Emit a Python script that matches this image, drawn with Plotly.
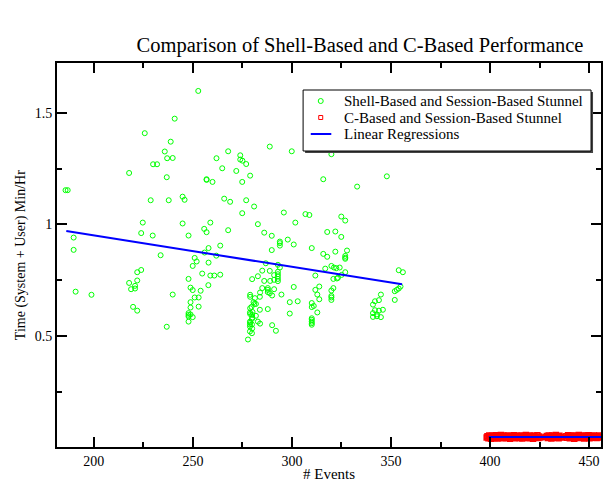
import plotly.graph_objects as go

# Shell-Based and Session-Based Stunnel (events, time min/hr)
shell_x = [
    252.7, 240.8, 225.7, 238.8, 235.8, 237.0, 239.8, 229.9, 231.9, 217.8, 236.8, 267.8,
    273.9, 273.9, 275.0, 276.9, 261.9, 264.8, 271.9, 278.9, 256.9, 288.8, 299.9,
    319.9, 315.8, 347.9,
    185.7, 186.8, 228.7, 237.8, 224.7, 223.9, 229.7, 189.8, 189.8, 233.7,
    190.8, 198.8, 221.9, 223.9, 217.8, 221.9, 220.8, 218.8, 220.8, 219.8, 221.9, 239.8, 236.8,
    256.9, 259.9, 274.9, 332.9, 244.8, 245.8, 265.8, 268.8, 276.9, 280.9, 274.9, 295.9,
    306.8, 308.8, 324.9, 326.9, 244.8, 258.8, 282.8, 301.7, 255.7, 256.9, 267.8, 286.0,
    289.8, 317.8, 321.9, 324.9, 247.8, 297.9, 293.9, 293.9, 293.9, 300.9, 310.0, 257.9,
    263.8, 289.8, 327.8, 321.9, 315.8, 317.8, 326.9, 326.9, 326.9, 255.9, 261.8, 250.9,
    251.9, 257.9, 249.9, 286.8, 292.9, 293.9, 319.9, 321.2, 322.4, 324.1, 316.8, 285.0,
    288.8, 292.9, 292.9, 292.9, 291.0, 254.7, 258.8, 260.8, 263.8, 282.8, 311.8, 326.9,
    325.1, 353.9, 356.0, 247.8, 279.9, 286.0, 289.0, 291.0, 292.9, 292.9, 320.9, 322.7,
    323.2, 257.8, 248.8, 249.9, 253.9, 285.0, 287.8, 287.8, 287.8, 291.0, 300.9, 313.8,
    311.8, 320.9, 319.9, 353.9, 352.9, 351.9, 354.8, 283.9, 288.8, 290.0, 294.7, 312.8,
    344.9, 278.9, 278.9, 283.8, 250.9, 252.9, 281.3, 319.9, 319.9, 319.9, 313.8, 351.9,
    343.9, 341.9, 248.8, 280.6, 281.8, 298.9, 302.9, 310.0, 311.0, 340.9, 279.6, 278.9,
    252.9, 248.8, 310.0, 283.8, 287.8, 341.9, 343.9, 345.9, 340.9, 342.9, 247.8, 247.8,
    248.8, 247.8, 298.9, 312.8, 278.8, 279.9, 281.8, 340.9, 344.9, 342.9, 249.9, 247.8,
    279.8, 278.8, 282.8, 283.9, 310.0, 310.0, 310.0, 310.0, 310.0, 278.8, 279.8, 278.8,
    279.9, 290.0, 291.9, 278.8, 279.8, 277.8, 281.0, 280.1, 278.9, 280.0, 278.9,
]
shell_y = [
    1.597, 1.473, 1.408, 1.370, 1.326, 1.296, 1.297, 1.269, 1.269, 1.230, 1.211, 1.327,
    1.309, 1.290, 1.285, 1.270, 1.296, 1.251, 1.239, 1.218, 1.202, 1.348, 1.327,
    1.314, 1.202, 1.215,
    1.153, 1.153, 1.108, 1.108, 1.008, 0.961, 0.950, 0.941, 0.886, 0.862,
    0.699, 0.685, 0.786, 0.796, 0.738, 0.749, 0.725, 0.710, 0.713, 0.631, 0.614, 0.686, 0.542,
    1.199, 1.190, 1.190, 1.169, 1.124, 1.110, 1.115, 1.101, 1.108, 1.080, 1.050, 1.053,
    1.046, 1.042, 1.035, 1.017, 1.004, 1.008, 1.001, 1.008, 0.980, 0.965, 0.974, 0.963,
    0.949, 0.966, 0.968, 0.944, 0.950, 0.932, 0.923, 0.916, 0.905, 0.910, 0.894, 0.894,
    0.905, 0.885, 0.883, 0.878, 0.868, 0.855, 0.859, 0.851, 0.846, 0.874, 0.860, 0.850,
    0.834, 0.829, 0.814, 0.826, 0.819, 0.807, 0.814, 0.807, 0.804, 0.807, 0.802, 0.793,
    0.792, 0.788, 0.777, 0.767, 0.773, 0.780, 0.771, 0.771, 0.775, 0.768, 0.771, 0.786,
    0.774, 0.795, 0.786, 0.756, 0.755, 0.747, 0.747, 0.752, 0.756, 0.746, 0.756, 0.758,
    0.761, 0.728, 0.717, 0.706, 0.703, 0.715, 0.715, 0.707, 0.697, 0.710, 0.720, 0.722,
    0.707, 0.715, 0.704, 0.713, 0.707, 0.701, 0.722, 0.695, 0.692, 0.682, 0.686, 0.686,
    0.686, 0.685, 0.676, 0.676, 0.673, 0.673, 0.670, 0.680, 0.673, 0.662, 0.665, 0.662,
    0.661, 0.656, 0.652, 0.652, 0.644, 0.652, 0.656, 0.648, 0.635, 0.641, 0.631, 0.625,
    0.632, 0.628, 0.630, 0.618, 0.621, 0.616, 0.614, 0.618, 0.603, 0.597, 0.603, 0.595,
    0.597, 0.588, 0.601, 0.606, 0.606, 0.595, 0.591, 0.586, 0.585, 0.589, 0.585, 0.565,
    0.577, 0.565, 0.565, 0.556, 0.580, 0.573, 0.565, 0.558, 0.551, 0.552, 0.552, 0.543,
    0.534, 0.549, 0.524, 0.521, 0.513, 0.485, 0.644, 0.608, 0.599, 0.583, 0.560,
]

# C-Based and Session-Based Stunnel
c_x = [
    398.3, 398.7, 399.2, 399.6, 400.1, 400.5, 401.0, 401.4, 401.9, 402.3,
    402.8, 403.2, 403.7, 404.1, 404.6, 405.0, 405.5, 405.9, 406.4, 406.8,
    407.3, 407.7, 408.2, 408.6, 409.1, 409.5, 410.0, 410.4, 410.9, 411.3,
    411.8, 412.2, 412.7, 413.1, 413.6, 414.0, 414.5, 414.9, 415.4, 415.8,
    416.3, 416.7, 417.2, 417.6, 418.1, 418.5, 419.0, 419.4, 419.9, 420.3,
    420.8, 421.2, 421.7, 422.1, 422.6, 423.0, 423.5, 423.9, 424.4, 424.8, 425.3,
    428.3, 428.7, 429.2, 429.6, 430.1, 430.5, 431.0, 431.4, 431.9, 432.3,
    432.8, 433.2, 433.7, 434.1, 434.6, 435.0, 435.5, 435.9,
    438.5, 438.9, 439.4, 439.8, 440.3, 440.7, 441.2, 441.6, 442.1, 442.5,
    443.0, 443.4, 443.9, 444.3, 444.8, 445.2, 445.7, 446.1, 446.6, 447.0,
    447.5, 447.9, 448.4, 448.8, 449.3, 449.7, 450.2, 450.6, 451.1, 451.5,
    452.0, 452.4, 452.9, 453.3, 453.8, 454.2, 454.7, 455.1, 455.6,
]
c_y = [
    0.047, 0.052, 0.043, 0.056, 0.049, 0.041, 0.054, 0.046, 0.051, 0.044, 0.057, 0.048,
    0.042, 0.053, 0.050, 0.045, 0.058, 0.047, 0.043, 0.055, 0.049, 0.052, 0.044, 0.050,
    0.056, 0.046, 0.041, 0.053, 0.048, 0.051, 0.045, 0.057, 0.043, 0.049, 0.054, 0.047,
    0.052, 0.044, 0.050, 0.055, 0.042, 0.048, 0.053, 0.046, 0.058, 0.051, 0.045, 0.049,
    0.043, 0.056, 0.047, 0.052, 0.041, 0.054, 0.050, 0.045, 0.048, 0.057, 0.044, 0.051,
    0.046,
    0.049, 0.053, 0.044, 0.056, 0.047, 0.051, 0.042, 0.055, 0.048, 0.045, 0.052, 0.058,
    0.046, 0.050, 0.043, 0.054, 0.049, 0.047,
    0.052, 0.045, 0.057, 0.048, 0.043, 0.054, 0.050, 0.046, 0.056, 0.041, 0.051, 0.047,
    0.053, 0.044, 0.058, 0.049, 0.045, 0.052, 0.047, 0.055, 0.042, 0.050, 0.054, 0.046,
    0.049, 0.057, 0.043, 0.051, 0.048, 0.053, 0.045, 0.056, 0.047, 0.050, 0.044, 0.052,
    0.049, 0.055, 0.046,
]

# Linear regression endpoints
reg_x = [186.1, 355.6, None, 399.4, 457.0]
reg_y = [0.970, 0.732, None, 0.049, 0.049]

x_tick_vals = [200, 250, 300, 350, 400, 450]
x_tick_text = ["200", "250", "300", "350", "400", "450"]
y_tick_vals = [0.5, 1.0, 1.5]
y_tick_text = ["0.5", "1", "1.5"]

legend_labels = [
    "Shell-Based and Session-Based Stunnel",
    "C-Based and Session-Based Stunnel",
    "Linear Regressions",
]

FONT = "Liberation Serif"
GREEN, RED, BLUE = "#00ff00", "#ff0000", "#0000ff"

fig = go.Figure()
fig.add_trace(go.Scatter(
    x=shell_x, y=shell_y, mode="markers", name=legend_labels[0],
    marker=dict(symbol="circle-open", size=5, color=GREEN, line=dict(width=1, color=GREEN)),
))
fig.add_trace(go.Scatter(
    x=c_x, y=c_y, mode="markers", name=legend_labels[1],
    marker=dict(symbol="square-open", size=5, color=RED, line=dict(width=1.5, color=RED)),
))
fig.add_trace(go.Scatter(
    x=reg_x, y=reg_y, mode="lines", name=legend_labels[2],
    line=dict(color=BLUE, width=2),
))

axis_common = dict(
    showgrid=False, zeroline=False, showline=True, linecolor="black", linewidth=2,
    mirror="allticks", ticks="inside", ticklen=10, tickwidth=1.5, tickcolor="black",
    tickfont=dict(family=FONT, size=14, color="black"),
)
fig.update_xaxes(
    range=[181.4, 456.0], tickvals=x_tick_vals, ticktext=x_tick_text,
    minor=dict(dtick=25, tick0=0, ticks="inside", ticklen=5, tickwidth=1.5, tickcolor="black"),
    **axis_common,
)
fig.update_yaxes(
    range=[0.004, 1.722], tickvals=y_tick_vals, ticktext=y_tick_text,
    minor=dict(dtick=0.25, tick0=0, ticks="inside", ticklen=5, tickwidth=1.5, tickcolor="black"),
    **axis_common,
)

# ---- hand-built legend (box with drop shadow) ----
W, H, L, T = 546.0, 384.0, 57.0, 63.0
def px(xp):
    return (xp - L) / W
def py(yp):
    return (T + H - yp) / H

box = dict(x0=304, x1=593, y0=90, y1=151)
row_y = [101, 117.5, 134]
sym_x = 321.7
text_x = 343

shapes = [
    dict(type="rect", xref="paper", yref="paper", layer="above",
         x0=px(box["x0"] + 2), x1=px(box["x1"] + 2), y0=py(box["y1"] + 2), y1=py(box["y0"] + 2),
         fillcolor="#444444", line=dict(width=0)),
    dict(type="rect", xref="paper", yref="paper", layer="above",
         x0=px(box["x0"]), x1=px(box["x1"]), y0=py(box["y1"]), y1=py(box["y0"]),
         fillcolor="white", line=dict(color="black", width=1)),
    dict(type="circle", xref="paper", yref="paper", layer="above",
         xsizemode="pixel", ysizemode="pixel", xanchor=px(sym_x), yanchor=py(row_y[0]),
         x0=-2.5, x1=2.5, y0=-2.5, y1=2.5, fillcolor="white", line=dict(color=GREEN, width=1)),
    dict(type="rect", xref="paper", yref="paper", layer="above",
         xsizemode="pixel", ysizemode="pixel", xanchor=px(sym_x), yanchor=py(row_y[1]),
         x0=-2, x1=2, y0=-2, y1=2, fillcolor="white", line=dict(color=RED, width=1)),
    dict(type="line", xref="paper", yref="paper", layer="above",
         x0=px(311.7), x1=px(332.3), y0=py(row_y[2]), y1=py(row_y[2]),
         line=dict(color=BLUE, width=2)),
]

annotations = [
    dict(text="# Events", xref="paper", yref="paper", x=0.5, y=py(474),
         xanchor="center", yanchor="middle", showarrow=False,
         font=dict(family=FONT, size=15, color="black")),
    dict(text="Time (System + User) Min/Hr", xref="paper", yref="paper", x=px(21), y=py(255),
         xanchor="center", yanchor="middle", textangle=-90, showarrow=False,
         font=dict(family=FONT, size=14, color="black")),
]
for label, ry in zip(legend_labels, row_y):
    annotations.append(dict(
        text=label, xref="paper", yref="paper", x=px(text_x), y=py(ry),
        xanchor="left", yanchor="middle", showarrow=False,
        font=dict(family=FONT, size=15, color="black"),
    ))

fig.update_layout(
    width=606, height=482,
    margin=dict(l=57, r=3, t=63, b=35),
    paper_bgcolor="white", plot_bgcolor="white",
    font=dict(family=FONT, size=14, color="black"),
    showlegend=False,
    title=dict(
        text="Comparison of Shell-Based and C-Based Performance",
        font=dict(family=FONT, size=20.5, color="black"),
        xref="container", x=360 / 606, xanchor="center",
        yref="container", y=1 - 45 / 482, yanchor="middle",
    ),
    shapes=shapes,
    annotations=annotations,
)

fig.write_html("out.html")
